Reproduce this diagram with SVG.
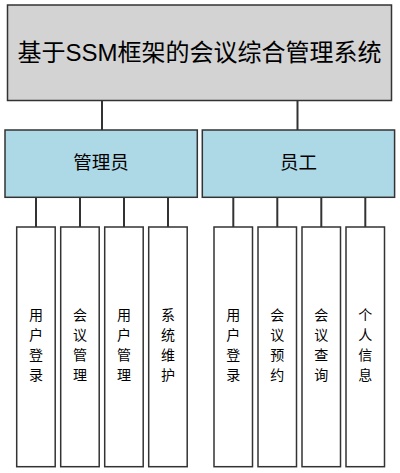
<svg xmlns="http://www.w3.org/2000/svg" width="400" height="473" viewBox="0 0 400 473">
<style>
.box{stroke:#333;stroke-width:1.5}
.root{fill:#d3d3d3}
.mid{fill:#add8e6}
.leaf{fill:#fff}
.t{font-family:"Liberation Sans","Noto Sans CJK SC",sans-serif;fill:#000;text-anchor:middle;dominant-baseline:central}
.lt{font-size:14px}
.conn line{stroke:#333;stroke-width:2}
</style>
<rect width="400" height="473" fill="#fff"/>
<g class="conn">
<line x1="102" y1="101" x2="102" y2="130"/>
<line x1="297.5" y1="101" x2="297.5" y2="130"/>
<line x1="36" y1="197" x2="36" y2="227"/>
<line x1="80" y1="197" x2="80" y2="227"/>
<line x1="124" y1="197" x2="124" y2="227"/>
<line x1="168" y1="197" x2="168" y2="227"/>
<line x1="233.3" y1="197" x2="233.3" y2="227"/>
<line x1="277.3" y1="197" x2="277.3" y2="227"/>
<line x1="321.3" y1="197" x2="321.3" y2="227"/>
<line x1="365.3" y1="197" x2="365.3" y2="227"/>
</g>
<g id="root">
<rect class="box root" x="7.5" y="5" width="384" height="95.5"/>
<text class="t" x="199.5" y="52" font-size="24">基于SSM框架的会议综合管理系统</text>
</g>
<g id="admin">
<rect class="box mid" x="5" y="130" width="192.3" height="67.3"/>
<text class="t" x="101" y="162" font-size="18.5">管理员</text>
</g>
<g id="staff">
<rect class="box mid" x="202.3" y="130" width="192.3" height="67.3"/>
<text class="t" x="298.5" y="162" font-size="18.5">员工</text>
</g>
<g id="a1">
<rect class="box leaf" x="16.7" y="227" width="38.5" height="239.7"/>
<text class="t lt" x="36"><tspan x="36" y="315">用</tspan><tspan x="36" y="335">户</tspan><tspan x="36" y="355">登</tspan><tspan x="36" y="375">录</tspan></text>
</g>
<g id="a2">
<rect class="box leaf" x="60.7" y="227" width="38.5" height="239.7"/>
<text class="t lt"><tspan x="80" y="315">会</tspan><tspan x="80" y="335">议</tspan><tspan x="80" y="355">管</tspan><tspan x="80" y="375">理</tspan></text>
</g>
<g id="a3">
<rect class="box leaf" x="104.7" y="227" width="38.5" height="239.7"/>
<text class="t lt"><tspan x="124" y="315">用</tspan><tspan x="124" y="335">户</tspan><tspan x="124" y="355">管</tspan><tspan x="124" y="375">理</tspan></text>
</g>
<g id="a4">
<rect class="box leaf" x="148.7" y="227" width="38.5" height="239.7"/>
<text class="t lt"><tspan x="168" y="315">系</tspan><tspan x="168" y="335">统</tspan><tspan x="168" y="355">维</tspan><tspan x="168" y="375">护</tspan></text>
</g>
<g id="s1">
<rect class="box leaf" x="214" y="227" width="38.5" height="239.7"/>
<text class="t lt"><tspan x="233.3" y="315">用</tspan><tspan x="233.3" y="335">户</tspan><tspan x="233.3" y="355">登</tspan><tspan x="233.3" y="375">录</tspan></text>
</g>
<g id="s2">
<rect class="box leaf" x="258" y="227" width="38.5" height="239.7"/>
<text class="t lt"><tspan x="277.3" y="315">会</tspan><tspan x="277.3" y="335">议</tspan><tspan x="277.3" y="355">预</tspan><tspan x="277.3" y="375">约</tspan></text>
</g>
<g id="s3">
<rect class="box leaf" x="302" y="227" width="38.5" height="239.7"/>
<text class="t lt"><tspan x="321.3" y="315">会</tspan><tspan x="321.3" y="335">议</tspan><tspan x="321.3" y="355">查</tspan><tspan x="321.3" y="375">询</tspan></text>
</g>
<g id="s4">
<rect class="box leaf" x="346" y="227" width="38.5" height="239.7"/>
<text class="t lt"><tspan x="365.3" y="315">个</tspan><tspan x="365.3" y="335">人</tspan><tspan x="365.3" y="355">信</tspan><tspan x="365.3" y="375">息</tspan></text>
</g>
</svg>
